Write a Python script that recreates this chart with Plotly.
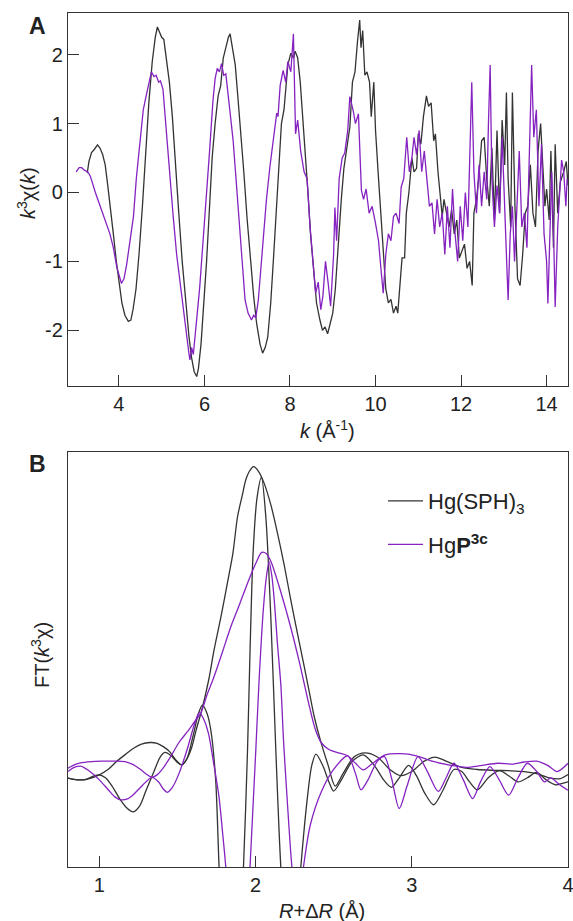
import plotly.graph_objects as go

# ---------------- Panel A: k^3 chi(k) ----------------
K_HGSPH = [3.26,3.3,3.36,3.42,3.5,3.56,3.62,3.68,3.74,3.8,3.87,3.94,4.0,4.07,4.14,4.22,4.28,4.33,4.4,4.47,
           4.55,4.63,4.7,4.78,4.85,4.9,4.95,5.0,5.05,5.1,5.18,5.25,5.32,5.4,5.48,5.56,5.64,5.7,5.76,5.82,
           5.86,5.92,5.98,6.05,6.12,6.18,6.25,6.32,6.38,6.44,6.5,6.56,6.6,6.66,6.72,6.78,6.85,6.92,7.0,7.08,
           7.15,7.22,7.3,7.36,7.42,7.48,7.55,7.62,7.68,7.74,7.8,7.86,7.9,7.95,8.02,8.08,8.12,8.18,8.24,8.3,
           8.36,8.42,8.48,8.55,8.62,8.7,8.76,8.82,8.88,8.94,9.0,9.06,9.12,9.2,9.26,9.32,9.4,9.46,9.52,9.58,
           9.63,9.66,9.7,9.75,9.8,9.86,9.9,9.96,10.0,10.06,10.12,10.18,10.24,10.3,10.36,10.42,10.48,10.52,10.58,10.62,
           10.68,10.72,10.78,10.85,10.9,10.96,11.0,11.06,11.12,11.19,11.24,11.3,11.36,11.4,11.46,11.5,11.56,11.6,11.66,11.72,
           11.78,11.84,11.9,11.96,12.02,12.08,12.14,12.2,12.26,12.3,12.36,12.42,12.48,12.54,12.6,12.66,12.72,12.78,12.84,12.9,
           12.96,13.02,13.06,13.1,13.16,13.2,13.26,13.32,13.38,13.44,13.5,13.56,13.62,13.68,13.74,13.8,13.86,13.9,13.96,14.0,
           14.06,14.1,14.16,14.2,14.26,14.32,14.4,14.46,14.5]
CHI_HGSPH = [0.28,0.45,0.58,0.62,0.69,0.64,0.55,0.4,0.1,-0.2,-0.6,-1.0,-1.3,-1.6,-1.78,-1.87,-1.85,-1.7,-1.4,-0.9,
             -0.2,0.6,1.3,1.9,2.25,2.4,2.33,2.25,2.22,2.0,1.6,1.1,0.4,-0.3,-1.0,-1.6,-2.1,-2.4,-2.6,-2.67,
             -2.55,-2.2,-1.7,-1.0,-0.2,0.5,1.0,1.4,1.55,1.95,2.1,2.25,2.3,2.1,1.85,1.4,0.9,0.3,-0.4,-1.0,
             -1.5,-1.9,-2.2,-2.33,-2.25,-2.1,-1.6,-0.9,-0.2,0.5,1.0,1.2,1.5,1.85,2.02,1.95,2.05,1.95,1.6,1.1,
             0.5,0.0,-0.6,-1.1,-1.6,-1.85,-2.0,-1.95,-2.05,-1.9,-1.75,-1.4,-0.8,-0.1,0.35,0.6,0.95,1.6,1.75,2.2,
             2.5,2.1,2.35,1.7,1.75,1.6,1.1,1.6,0.9,0.3,-0.3,-0.9,-1.4,-1.6,-1.55,-1.75,-1.65,-1.75,-1.3,-0.95,
             -0.95,-0.3,0.0,0.5,0.3,0.35,0.85,0.7,1.1,1.4,1.25,1.3,0.75,0.85,0.3,0.0,-0.35,-0.1,-0.3,-0.5,
             -0.25,-0.6,-0.4,-0.95,-0.85,-0.75,-1.1,-1.0,-1.35,-0.3,-0.1,0.25,0.75,0.8,0.2,-0.2,0.65,-0.4,0.9,-0.3,
             1.05,0.4,1.45,0.2,-0.5,1.45,-0.2,-1.25,-1.35,-0.9,-0.3,-0.2,0.4,-0.3,-0.5,0.6,1.0,0.5,-0.2,0.05,
             -0.4,0.6,-0.8,0.7,-0.3,0.15,0.3,0.45,0.1]

K_HGP3C = [3.0,3.07,3.13,3.2,3.27,3.33,3.45,3.56,3.68,3.79,3.87,3.95,4.06,4.12,4.18,4.26,4.34,4.41,4.5,4.57,
           4.63,4.69,4.76,4.82,4.87,4.93,4.97,5.03,5.11,5.19,5.27,5.35,5.43,5.5,5.58,5.63,5.66,5.7,5.74,5.78,
           5.84,5.89,5.97,6.05,6.12,6.2,6.25,6.3,6.35,6.4,6.45,6.5,6.55,6.6,6.67,6.75,6.83,6.9,6.95,7.02,
           7.1,7.15,7.2,7.26,7.32,7.37,7.45,7.53,7.6,7.69,7.72,7.77,7.84,7.9,7.95,8.02,8.08,8.13,8.18,8.25,
           8.33,8.4,8.47,8.55,8.6,8.66,8.72,8.77,8.83,8.89,8.95,9.02,9.05,9.09,9.15,9.22,9.28,9.35,9.4,9.48,
           9.53,9.6,9.64,9.67,9.72,9.78,9.85,9.92,10.0,10.07,10.14,10.18,10.24,10.3,10.36,10.42,10.48,10.55,10.6,10.66,
           10.73,10.79,10.85,10.9,10.96,11.02,11.08,11.14,11.2,11.26,11.32,11.38,11.44,11.5,11.56,11.62,11.68,11.74,11.8,11.86,
           11.92,11.98,12.04,12.1,12.16,12.25,12.3,12.36,12.42,12.48,12.54,12.6,12.64,12.68,12.72,12.78,12.84,12.9,12.96,13.02,
           13.06,13.1,13.15,13.2,13.25,13.3,13.36,13.42,13.48,13.54,13.6,13.65,13.7,13.76,13.82,13.88,13.94,14.0,14.03,14.08,
           14.12,14.17,14.2,14.26,14.32,14.35,14.4,14.45,14.48]
CHI_HGP3C = [0.30,0.36,0.36,0.32,0.30,0.24,0.0,-0.2,-0.42,-0.6,-0.8,-1.08,-1.32,-1.25,-1.05,-0.7,-0.35,0.22,0.8,1.2,
             1.38,1.55,1.75,1.68,1.7,1.6,1.62,1.5,0.85,0.2,-0.35,-0.9,-1.32,-1.7,-2.04,-2.3,-2.43,-2.25,-2.35,-2.04,
             -1.7,-1.37,-0.7,-0.1,0.6,1.34,1.65,1.8,1.75,1.87,1.7,1.72,1.45,1.1,0.76,0.1,-0.6,-1.2,-1.56,-1.75,
             -1.85,-1.78,-1.82,-1.56,-1.1,-0.6,-0.1,0.37,0.75,1.15,1.1,1.55,1.77,1.6,1.9,1.75,2.3,0.85,1.05,0.6,
             0.3,0.2,-0.5,-1.1,-1.46,-1.3,-1.7,-1.5,-1.0,-1.3,-1.65,-0.9,-0.22,-0.7,0.2,0.5,0.57,0.9,1.39,1.18,
             1.0,1.14,0.6,0.03,-0.1,0.05,-0.3,-0.2,-0.45,-0.7,-1.2,-1.46,-0.9,-0.6,-0.7,-0.35,-0.3,-0.45,0.08,0.2,
             0.8,0.3,0.5,0.8,0.55,0.9,0.3,0.6,0.2,-0.2,-0.15,-0.6,-0.1,-0.5,-0.3,-0.9,-0.2,-0.8,0.05,-0.6,
             -1.0,-0.2,-0.7,0.0,-0.5,1.6,0.3,-0.3,0.4,-0.2,0.3,-0.1,1.0,1.85,0.2,-0.5,0.1,-0.3,0.8,-0.4,
             -0.9,-1.56,-0.6,-0.2,-1.0,-0.3,0.6,-0.5,-0.3,-0.8,0.5,1.85,0.8,1.2,-0.2,0.7,-0.6,-1.0,-1.61,-0.4,
             0.3,-0.8,-1.66,-0.5,0.1,0.47,0.3,-0.2,0.2]

A_XTICKS = [4, 6, 8, 10, 12, 14]
A_YTICKS = [-2, -1, 0, 1, 2]
A_YTICKTEXT = ["-2", "-1", "0", "1", "2"]

# ---------------- Panel B: FT(k^3 chi) ----------------
R_SPH_MAG = [0.80,0.86,0.92,1.00,1.06,1.11,1.17,1.22,1.27,1.325,1.37,1.41,1.45,1.49,1.528,1.56,1.59,1.62,1.656,1.70,
             1.735,1.78,1.82,1.855,1.885,1.915,1.938,1.96,1.987,2.02,2.055,2.10,2.141,2.185,2.226,2.27,2.312,2.345,2.376,2.42,
             2.465,2.51,2.56,2.63,2.70,2.78,2.86,2.93,3.00,3.08,3.15,3.22,3.32,3.42,3.52,3.62,3.72,3.80,3.88,3.95,4.00]
FT_SPH_MAG = [21.4,21.0,21.1,22.2,23.6,25.4,27.2,28.6,29.6,30.0,29.8,29.0,27.8,25.8,24.6,26.0,28.6,33.0,37.8,45.0,
              52.3,60.5,68.4,75.5,84.4,89.5,93.3,95.3,96.5,95.3,92.5,87.0,80.4,72.5,64.3,56.0,48.3,42.0,36.2,29.9,
              24.5,19.5,22.5,26.5,27.5,26.5,23.5,22.0,23.0,25.5,26.5,25.5,24.0,23.5,23.3,23.2,23.0,22.5,21.5,21.3,22.3]

R_SPH_IM = [0.80,0.86,0.92,0.97,1.00,1.04,1.08,1.13,1.175,1.218,1.26,1.30,1.35,1.39,1.42,1.46,1.50,1.528,1.56,1.60,
            1.635,1.66,1.69,1.714,1.745,1.767,1.80,1.845,1.89,1.923,1.949,1.965,1.985,2.01,2.038,2.066,2.098,2.13,2.162,2.20,
            2.24,2.29,2.33,2.36,2.387,2.43,2.47,2.50,2.55,2.62,2.69,2.76,2.82,2.87,2.92,2.98,3.03,3.08,3.14,3.20,
            3.27,3.32,3.37,3.42,3.49,3.56,3.62,3.68,3.74,3.80,3.86,3.92,3.97,4.00]
FT_SPH_IM = [21.4,21.0,21.2,22.0,22.2,21.5,19.6,16.5,14.3,13.3,14.8,18.5,23.0,26.5,27.6,26.8,25.2,24.6,26.0,31.5,
             37.0,39.0,37.0,33.0,21.0,0.0,-25.0,-40.0,-25.0,0.0,28.2,52.0,76.0,89.0,93.9,84.4,60.3,28.2,0.0,-20.0,
             -25.0,0.0,16.0,24.5,27.2,24.5,20.5,18.3,21.0,25.5,27.0,24.5,21.0,19.2,21.5,24.5,22.0,18.0,15.0,18.5,
             23.5,23.0,20.5,18.6,21.5,23.2,22.0,20.5,21.5,22.8,21.0,19.8,20.2,20.5]

R_P3C_MAG = [0.80,0.84,0.88,0.95,1.01,1.08,1.115,1.175,1.22,1.26,1.30,1.336,1.37,1.40,1.457,1.51,1.564,1.61,1.649,1.69,
             1.735,1.79,1.842,1.90,1.949,2.00,2.04,2.07,2.10,2.16,2.22,2.28,2.34,2.38,2.42,2.47,2.53,2.59,2.64,2.69,
             2.75,2.83,2.93,3.03,3.13,3.25,3.35,3.45,3.55,3.65,3.72,3.80,3.87,3.93,4.00]
FT_P3C_MAG = [23.8,24.6,25.1,25.4,25.5,25.5,25.5,25.3,24.6,23.6,22.4,21.6,22.2,23.4,26.6,30.0,32.6,35.0,37.0,41.5,
              45.9,52.0,57.9,63.5,68.4,73.0,75.8,75.5,73.5,66.5,58.5,49.5,39.5,33.5,30.0,28.3,27.5,26.8,25.0,23.4,
              25.0,27.0,27.3,26.8,25.5,24.5,24.0,24.5,25.0,24.8,25.3,25.5,24.5,23.0,25.0]

R_P3C_IM = [0.80,0.84,0.88,0.93,1.00,1.06,1.10,1.137,1.18,1.22,1.28,1.336,1.38,1.41,1.436,1.47,1.51,1.564,1.61,1.64,
            1.67,1.70,1.73,1.766,1.79,1.81,1.85,1.90,1.94,1.965,2.002,2.023,2.05,2.07,2.087,2.105,2.12,2.14,2.162,2.18,
            2.205,2.233,2.27,2.307,2.35,2.42,2.50,2.59,2.64,2.675,2.72,2.78,2.825,2.87,2.92,2.97,3.04,3.10,3.17,3.22,
            3.27,3.33,3.39,3.44,3.50,3.56,3.62,3.68,3.74,3.80,3.85,3.89,3.94,4.00]
FT_P3C_IM = [23.0,24.0,24.3,23.3,21.0,18.5,16.9,16.2,16.4,17.5,19.8,21.6,20.5,18.8,18.0,19.3,22.5,28.5,34.5,37.2,
             35.5,32.0,25.5,17.0,8.0,0.0,-20.0,-30.0,-20.0,0.0,28.2,45.0,62.0,70.0,73.6,70.0,64.3,54.0,44.0,30.0,
             15.0,0.0,-12.0,0.0,10.0,18.0,23.5,26.8,22.5,18.6,21.0,25.5,26.6,21.5,14.1,19.5,26.6,23.0,18.2,21.5,
             25.0,21.0,16.5,20.5,24.2,21.0,17.3,21.5,25.0,23.0,20.5,21.5,20.0,18.5]

B_XTICKS = [1, 2, 3, 4]
NAME_SPH = "Hg(SPH)<sub>3</sub>"
NAME_P3C = "Hg<b>P<sup>3c</sup></b>"

# ---------------- styling ----------------
BLACK = "#333333"
PURPLE = "#8522C0"
AXIS = "#333333"
FONT = "Liberation Sans, Arial, sans-serif"

W, H = 573, 921
ML, MR, MT, MB = 68, 5, 13, 54
PW, PH = W - ML - MR, H - MT - MB


def px_x(p):
    return (p - ML) / PW


def px_y(p):
    return (H - MB - p) / PH


fig = go.Figure()

fig.add_trace(go.Scatter(x=K_HGSPH, y=CHI_HGSPH, mode="lines", xaxis="x", yaxis="y",
                         line=dict(color=BLACK, width=1.3), showlegend=False, hoverinfo="skip"))
fig.add_trace(go.Scatter(x=K_HGP3C, y=CHI_HGP3C, mode="lines", xaxis="x", yaxis="y",
                         line=dict(color=PURPLE, width=1.3), showlegend=False, hoverinfo="skip"))

fig.add_trace(go.Scatter(x=R_SPH_MAG, y=FT_SPH_MAG, mode="lines", xaxis="x2", yaxis="y2",
                         line=dict(color=BLACK, width=1.3, shape="spline", smoothing=0.8),
                         name=NAME_SPH, legendgroup="a", showlegend=True, hoverinfo="skip"))
fig.add_trace(go.Scatter(x=R_SPH_IM, y=FT_SPH_IM, mode="lines", xaxis="x2", yaxis="y2",
                         line=dict(color=BLACK, width=1.3, shape="spline", smoothing=0.8),
                         legendgroup="a", showlegend=False, hoverinfo="skip"))
fig.add_trace(go.Scatter(x=R_P3C_MAG, y=FT_P3C_MAG, mode="lines", xaxis="x2", yaxis="y2",
                         line=dict(color=PURPLE, width=1.3, shape="spline", smoothing=0.8),
                         name=NAME_P3C, legendgroup="b", showlegend=True, hoverinfo="skip"))
fig.add_trace(go.Scatter(x=R_P3C_IM, y=FT_P3C_IM, mode="lines", xaxis="x2", yaxis="y2",
                         line=dict(color=PURPLE, width=1.3, shape="spline", smoothing=0.8),
                         legendgroup="b", showlegend=False, hoverinfo="skip"))

axis_common = dict(showline=True, mirror=True, linecolor=AXIS, linewidth=1.3,
                   showgrid=False, zeroline=False, ticks="inside", tickcolor=AXIS,
                   tickwidth=1.3, ticklen=11, tickfont=dict(family=FONT, size=20, color="#222222"),
                   ticklabeloverflow="allow", automargin=False)

fig.update_layout(
    template="none",
    width=W, height=H,
    margin=dict(l=ML, r=MR, t=MT, b=MB, pad=0, autoexpand=False),
    paper_bgcolor="white", plot_bgcolor="white",
    font=dict(family=FONT, size=20, color="#222222"),
    xaxis=dict(domain=[0, 1], anchor="y", range=[2.81, 14.5], tickvals=A_XTICKS, **axis_common),
    yaxis=dict(domain=[px_y(386), 1], anchor="x", range=[-2.807, 2.603],
               tickvals=A_YTICKS, ticktext=A_YTICKTEXT, **axis_common),
    xaxis2=dict(domain=[0, 1], anchor="y2", range=[0.8, 4.0], tickvals=B_XTICKS, **axis_common),
    yaxis2=dict(domain=[0, px_y(452)], anchor="x2", range=[0, 100],
                showline=True, mirror=True, linecolor=AXIS, linewidth=1.3,
                showgrid=False, zeroline=False, ticks="", showticklabels=False, automargin=False),
    legend=dict(x=px_x(383), xanchor="left", y=px_y(480), yanchor="top",
                font=dict(family=FONT, size=22, color="#222222"),
                bgcolor="rgba(0,0,0,0)", borderwidth=0, tracegroupgap=12, itemwidth=35),
    showlegend=True,
)

ann = [
    dict(text="<b>A</b>", x=px_x(37), y=px_y(26), font=dict(size=23)),
    dict(text="<b>B</b>", x=px_x(37), y=px_y(464), font=dict(size=23)),
    dict(text="<i>k</i> (Å<sup>-1</sup>)", x=px_x(327), y=px_y(429), font=dict(size=20)),
    dict(text="<i>k</i><sup>3</sup>χ(<i>k</i>)", x=px_x(26), y=px_y(193), font=dict(size=20), textangle=-90),
    dict(text="<i>R</i>+Δ<i>R</i> (Å)", x=px_x(322), y=px_y(911), font=dict(size=20)),
    dict(text="FT(<i>k</i><sup>3</sup>χ)", x=px_x(40), y=px_y(655), font=dict(size=20), textangle=-90),
]
for a in ann:
    fig.add_annotation(xref="paper", yref="paper", showarrow=False,
                       xanchor="center", yanchor="middle", **a)

fig.write_html("out.html", config={"displayModeBar": False},
               post_script="document.body.style.margin='0px';document.body.style.overflow='hidden';")
